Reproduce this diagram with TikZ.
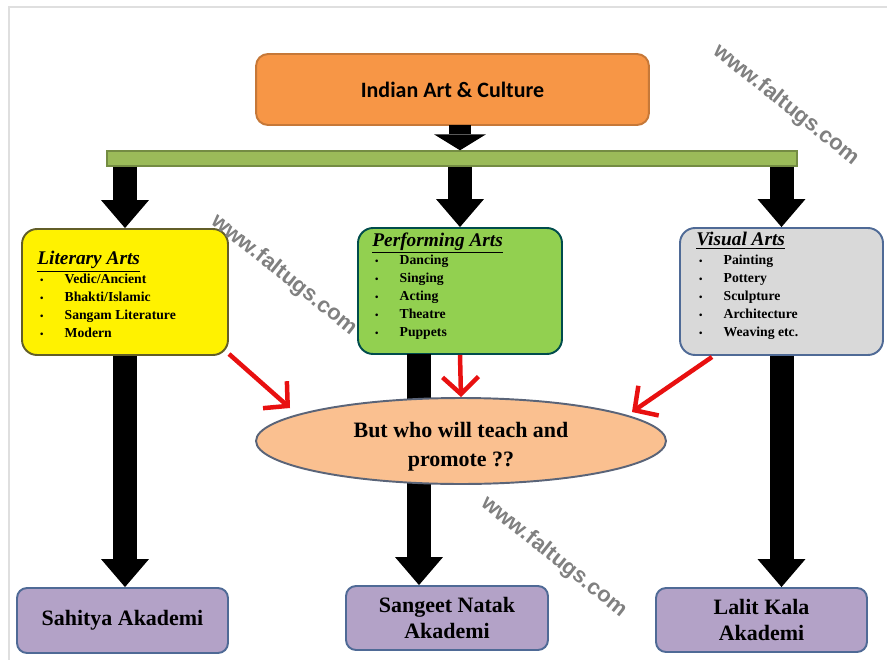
\documentclass[tikz,border=0pt]{standalone}
\usepackage{fontspec}
\usepackage{tikz}
\usepackage{xcolor}
\usetikzlibrary{arrows.meta,shapes.geometric}
\setmainfont{Liberation Serif}
\newfontfamily\calibrifont{Carlito}
\newfontfamily\markfont{Liberation Sans}
\definecolor{toporange}{HTML}{F79646}
\definecolor{barGreen}{HTML}{9BBB59}
\definecolor{perfGreen}{HTML}{92D050}
\definecolor{visGray}{HTML}{D9D9D9}
\definecolor{ellPeach}{HTML}{FAC090}
\definecolor{akaPurple}{HTML}{B3A2C7}
\definecolor{boxBlue}{HTML}{4F6A96}
\newcommand{\artitem}[1]{\makebox[15.5pt][l]{\hspace{1.5pt}{\fontsize{5.5}{6}\selectfont\textbullet}}#1}
\newcommand{\arttitle}[1]{{\fontsize{11}{12}\selectfont\itshape\underline{#1}}}

\begin{document}
\begin{tikzpicture}[x=0.02cm,y=-0.02cm,
    artbox/.style={draw, rounded corners=0.3cm, line width=1.1pt, inner sep=0pt},
    listtext/.style={anchor=north west, inner sep=0pt, align=left, font=\bfseries\fontsize{7.8}{10.2}\selectfont},
    akabox/.style={draw=boxBlue, fill=akaPurple, rounded corners=0.2cm, line width=1.1pt, align=center,
        font=\bfseries\fontsize{12.5}{14.7}\selectfont},
    blockarrow/.style={line width=0.48cm, -{Triangle[length=0.56cm,width=0.96cm,line width=0pt]}},
    toparrow/.style={line width=0.44cm, -{Triangle[length=0.32cm,width=1.04cm,line width=0pt]}},
    redarrow/.style={draw={rgb,255:red,232;green,16;blue,16}, line width=0.09cm,
        -{Straight Barb[length=0.34cm,width=0.72cm]}},
    watermark/.style={text=black!50, font=\markfont\bfseries\fontsize{12.5}{14}\selectfont, rotate=-38.5}]
  \useasboundingbox (0,0) rectangle (887,660);
  \draw[gray!25, line width=1.5pt] (9,660) -- (9,7) -- (887,7);

  \node[artbox, draw=toporange!80!black, fill=toporange, rounded corners=0.24cm,
        minimum width=7.86cm, minimum height=1.42cm, font=\calibrifont\bfseries\fontsize{12.5}{14}\selectfont]
        (top) at (452.5,89.5) {Indian Art \& Culture};
  \node[draw=barGreen!75!black, fill=barGreen, line width=0.8pt, minimum width=13.8cm, minimum height=0.3cm,
        inner sep=0pt] (bar) at (452,158.5) {};

  \node[artbox, draw=olive!60!black, fill=yellow, minimum width=4.12cm, minimum height=2.52cm] (lit) at (125,292) {};
  \node[artbox, draw=teal!60!black, fill=perfGreen, minimum width=4.08cm, minimum height=2.52cm] (perf) at (460,291) {};
  \node[artbox, draw=boxBlue, fill=visGray, minimum width=4.06cm, minimum height=2.54cm] (vis) at (781.5,291.5) {};

  \node[listtext] (littext) at ([xshift=0.32cm,yshift=-0.46cm]lit.north west)
    {\arttitle{Literary Arts}\\[0.5pt]
     \artitem{Vedic/Ancient}\\ \artitem{Bhakti/Islamic}\\ \artitem{Sangam Literature}\\ \artitem{Modern}};
  \node[listtext] (perftext) at ([xshift=0.3cm,yshift=-0.1cm]perf.north west)
    {\arttitle{Performing Arts}\\[0.5pt]
     \artitem{Dancing}\\ \artitem{Singing}\\ \artitem{Acting}\\ \artitem{Theatre}\\ \artitem{Puppets}};
  \node[listtext] (vistext) at ([xshift=0.34cm,yshift=-0.1cm]vis.north west)
    {\arttitle{Visual Arts}\\[0.5pt]
     \artitem{Painting}\\ \artitem{Pottery}\\ \artitem{Sculpture}\\ \artitem{Architecture}\\ \artitem{Weaving etc.}};

  \node[akabox, minimum width=4.22cm, minimum height=1.3cm] (sahitya) at (122.5,620.5) {Sahitya Akademi};
  \node[akabox, minimum width=4.04cm, minimum height=1.28cm] (sangeet) at (447,618) {Sangeet Natak\\Akademi};
  \node[akabox, minimum width=4.22cm, minimum height=1.28cm] (lalit) at (761.5,620) {Lalit Kala\\Akademi};

  \coordinate (topdrop) at (460,125);
  \coordinate (perfdrop) at (419,354);
  \draw[toparrow] (topdrop) -- (topdrop |- bar.north);
  \draw[blockarrow] (bar.south -| lit.north) -- (lit.north);
  \draw[blockarrow] (bar.south -| perf.north) -- (perf.north);
  \draw[blockarrow] (bar.south -| vis.north) -- (vis.north);
  \draw[blockarrow] (lit.south) -- (lit.south |- sahitya.north);
  \draw[blockarrow] (perfdrop) -- (perfdrop |- sangeet.north);
  \draw[blockarrow] (vis.south) -- (vis.south |- lalit.north);

  \node[ellipse, draw={rgb,255:red,90;green,100;blue,120}, fill=ellPeach, line width=1.1pt, inner sep=0pt,
        minimum width=8.2cm, minimum height=1.72cm] (ell) at (461,441) {};
  \node[align=center, font=\bfseries\fontsize{12.5}{16.5}\selectfont] (elltext) at (461,447)
        {But who will teach and\\promote ??};

  \coordinate (litred) at (229,354);
  \coordinate (littip) at (290,408);
  \coordinate (visred) at (712,357);
  \coordinate (vistip) at (632,412);
  \draw[redarrow] (litred) -- (littip);
  \draw[redarrow] (perf.south) -- (ell.north);
  \draw[redarrow] (visred) -- (vistip);

  \node[watermark] (mark1) at (786,105) {www.faltugs.com};
  \node[watermark] (mark2) at (284,275) {www.faltugs.com};
  \node[watermark] (mark3) at (554,557) {www.faltugs.com};
\end{tikzpicture}
\end{document}
